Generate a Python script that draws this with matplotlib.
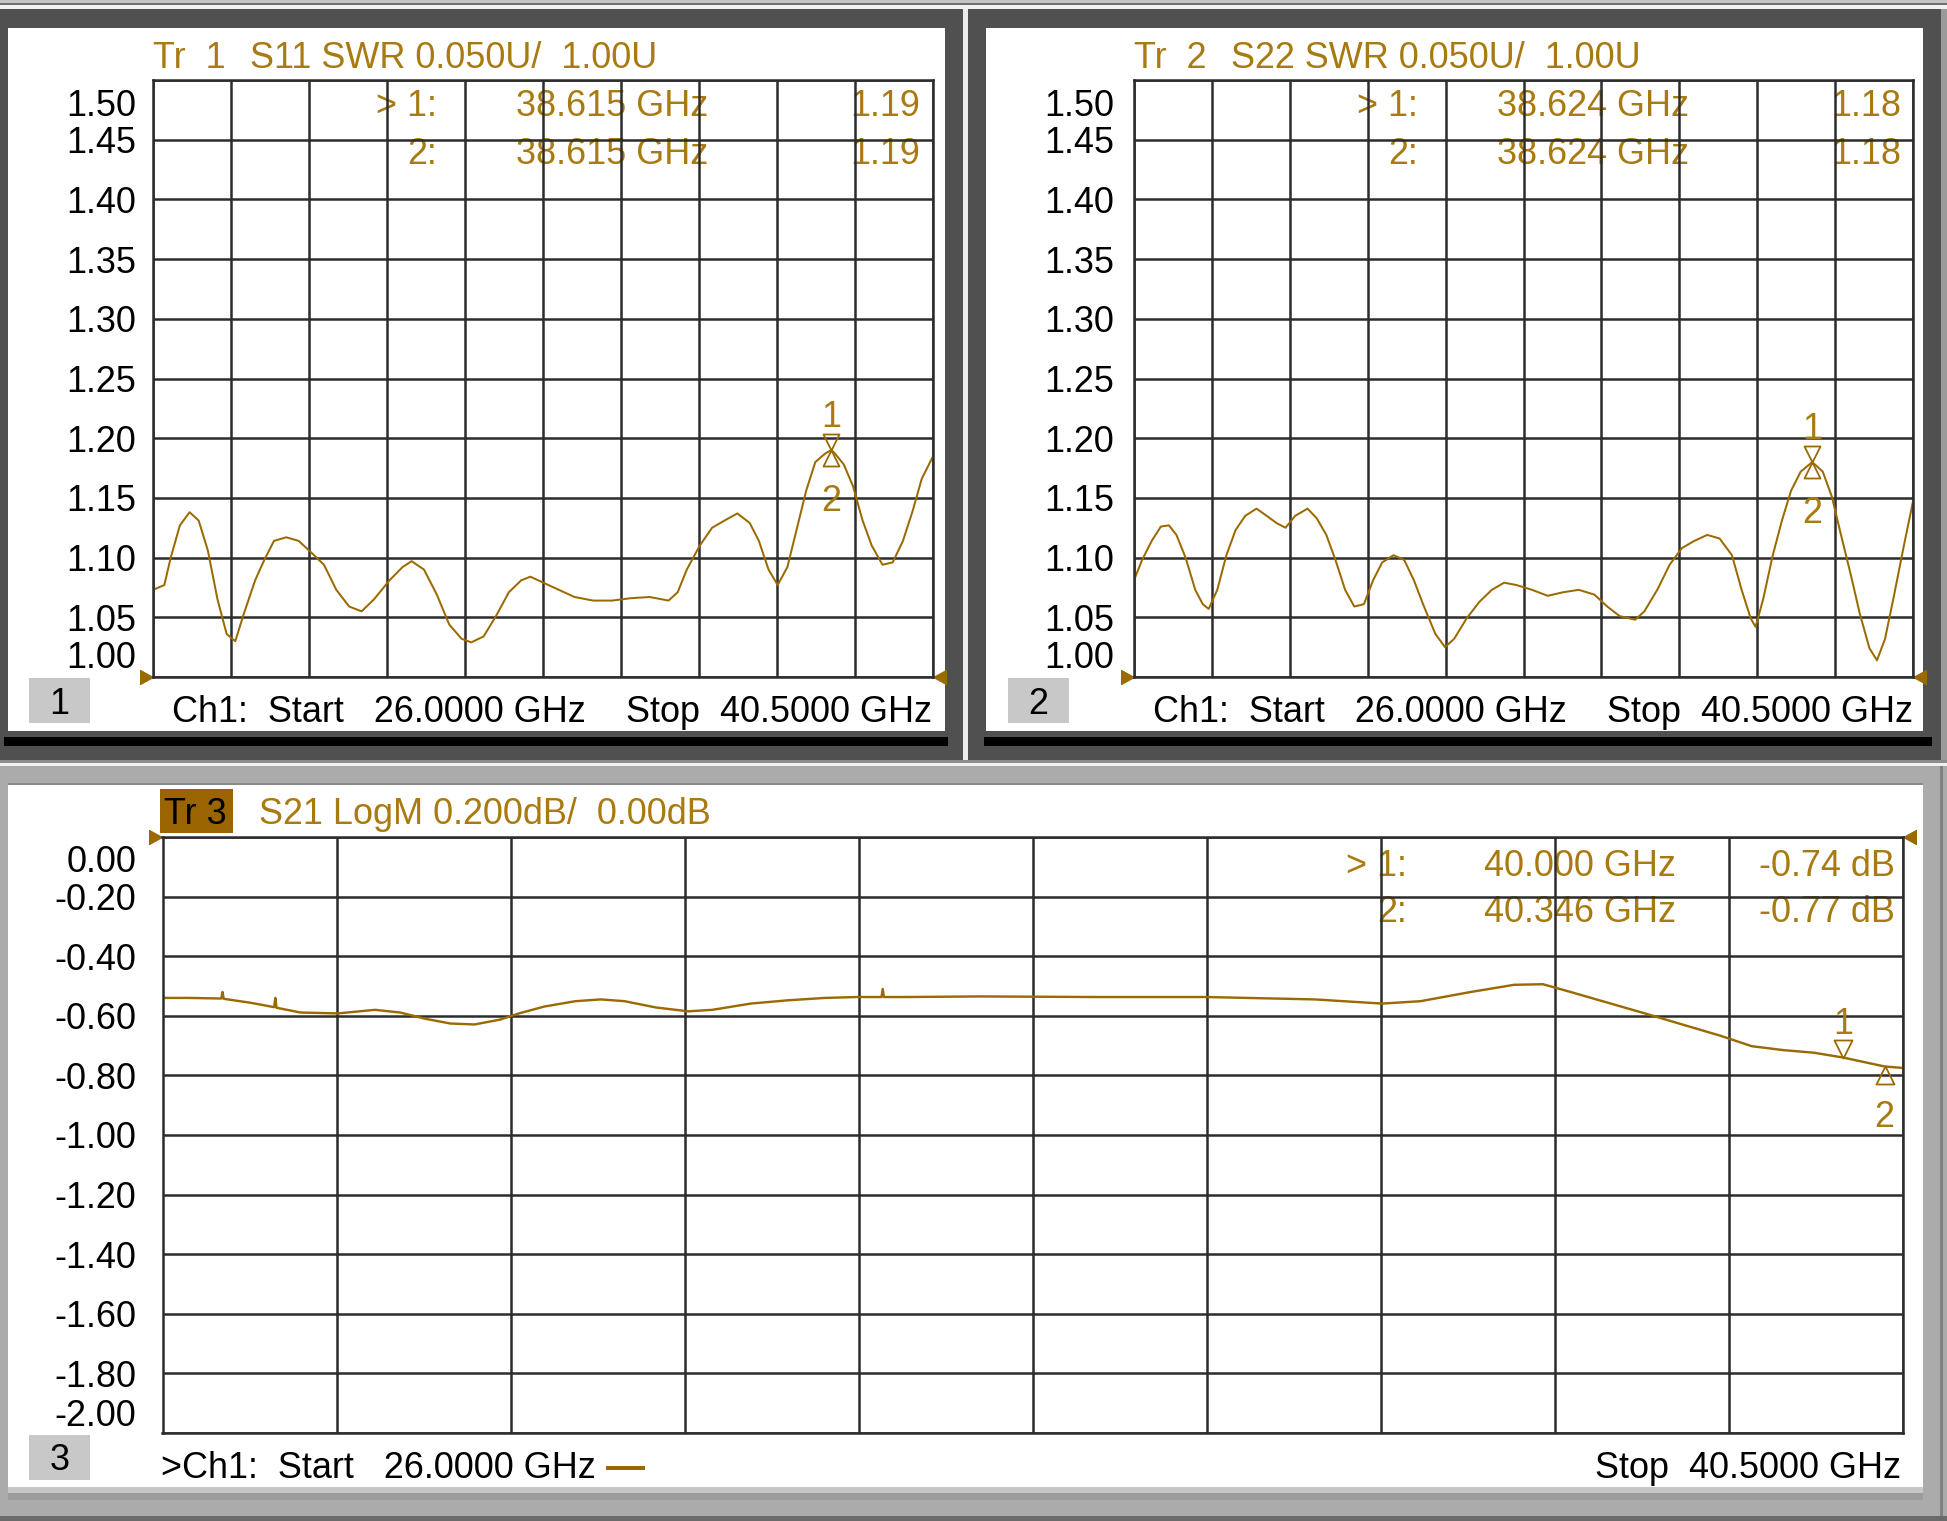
import matplotlib
matplotlib.use("Agg")
import matplotlib.pyplot as plt
from matplotlib.patches import Rectangle
from matplotlib.path import Path
from matplotlib.transforms import ScaledTranslation

plt.rcParams['font.family'] = ['Liberation Sans', 'DejaVu Sans']

W, H = 1947, 1521
DPI = 72  # 1 pt == 1 px

TRACE = '#9A6A00'
GOLD = '#A87A10'
GRID = '#2c2c2c'
FS = 36

# ---- data ----
f_start, f_stop = 26.0, 40.5

s11_freq = [26.00, 26.21, 26.33, 26.50, 26.68, 26.85, 27.02, 27.20, 27.37, 27.53,
            27.69, 27.90, 28.07, 28.25, 28.48, 28.71, 28.95, 29.18, 29.41, 29.65,
            29.88, 30.11, 30.40, 30.64, 30.81, 31.04, 31.28, 31.51, 31.74, 31.92,
            32.15, 32.38, 32.62, 32.85, 33.02, 33.26, 33.55, 33.84, 34.19, 34.54,
            34.89, 35.24, 35.59, 35.76, 35.93, 36.17, 36.40, 36.63, 36.87, 37.10,
            37.27, 37.45, 37.62, 37.80, 37.97, 38.15, 38.32, 38.50, 38.615, 38.67,
            38.85, 39.02, 39.20, 39.37, 39.57, 39.76, 39.95, 40.13, 40.30, 40.50]
s11_swr = [1.073, 1.077, 1.100, 1.127, 1.138, 1.131, 1.106, 1.065, 1.036, 1.030,
           1.053, 1.081, 1.098, 1.114, 1.117, 1.114, 1.104, 1.094, 1.073, 1.059,
           1.055, 1.065, 1.081, 1.092, 1.097, 1.090, 1.069, 1.044, 1.032, 1.029,
           1.034, 1.051, 1.071, 1.081, 1.084, 1.079, 1.073, 1.067, 1.064, 1.064,
           1.066, 1.067, 1.064, 1.071, 1.090, 1.110, 1.125, 1.131, 1.137, 1.129,
           1.114, 1.090, 1.077, 1.092, 1.123, 1.156, 1.180, 1.187, 1.190, 1.188,
           1.178, 1.160, 1.131, 1.110, 1.094, 1.096, 1.114, 1.139, 1.166, 1.184]

s22_freq = [26.00, 26.15, 26.33, 26.50, 26.65, 26.79, 26.96, 27.14, 27.28, 27.39,
            27.55, 27.72, 27.89, 28.07, 28.28, 28.47, 28.65, 28.82, 29.00, 29.23,
            29.40, 29.58, 29.75, 29.93, 30.10, 30.28, 30.45, 30.62, 30.83, 31.03,
            31.21, 31.38, 31.61, 31.79, 31.96, 32.19, 32.43, 32.66, 32.89, 33.12,
            33.41, 33.70, 33.99, 34.28, 34.57, 34.81, 35.04, 35.33, 35.50, 35.74,
            35.97, 36.20, 36.43, 36.67, 36.90, 37.13, 37.31, 37.48, 37.57, 37.71,
            37.89, 38.06, 38.23, 38.41, 38.624, 38.82, 38.99, 39.16, 39.34, 39.51,
            39.69, 39.83, 39.98, 40.15, 40.33, 40.50]
s22_swr = [1.081, 1.098, 1.114, 1.126, 1.127, 1.119, 1.100, 1.073, 1.061, 1.057,
           1.073, 1.102, 1.123, 1.135, 1.141, 1.135, 1.129, 1.125, 1.135, 1.141,
           1.133, 1.119, 1.098, 1.073, 1.059, 1.061, 1.081, 1.096, 1.102, 1.098,
           1.081, 1.061, 1.036, 1.025, 1.032, 1.049, 1.063, 1.073, 1.079, 1.077,
           1.073, 1.068, 1.071, 1.073, 1.069, 1.059, 1.051, 1.048, 1.055, 1.073,
           1.094, 1.108, 1.114, 1.119, 1.116, 1.102, 1.073, 1.049, 1.042, 1.065,
           1.102, 1.131, 1.156, 1.172, 1.180, 1.172, 1.151, 1.119, 1.086, 1.053,
           1.024, 1.014, 1.032, 1.069, 1.110, 1.147]

s21_freq = [26.00, 26.21, 26.49, 26.50, 26.51, 26.73, 26.93, 26.94, 26.95, 27.15,
            27.46, 27.77, 27.98, 28.19, 28.40, 28.60, 28.81, 28.97, 29.18, 29.44,
            29.65, 29.85, 30.11, 30.38, 30.58, 30.90, 31.21, 31.52, 31.78, 31.99,
            32.00, 32.01, 32.20, 32.81, 33.77, 34.70, 35.60, 36.16, 36.48, 36.90,
            37.26, 37.50, 37.73, 38.04, 38.35, 38.66, 38.98, 39.24, 39.50, 39.76,
            40.00, 40.346, 40.50]
s21_db = [-0.540, -0.540, -0.542, -0.520, -0.543, -0.556, -0.571, -0.540, -0.573, -0.589,
          -0.592, -0.580, -0.589, -0.610, -0.626, -0.629, -0.613, -0.592, -0.569, -0.551,
          -0.545, -0.551, -0.572, -0.585, -0.580, -0.559, -0.548, -0.540, -0.537, -0.537,
          -0.510, -0.537, -0.537, -0.535, -0.537, -0.537, -0.545, -0.559, -0.551, -0.520,
          -0.496, -0.494, -0.520, -0.556, -0.592, -0.629, -0.667, -0.702, -0.715, -0.724,
          -0.740, -0.770, -0.775]

swr_ticks = [1.00, 1.05, 1.10, 1.15, 1.20, 1.25, 1.30, 1.35, 1.40, 1.45, 1.50]
swr_labels = ['1.00', '1.05', '1.10', '1.15', '1.20', '1.25', '1.30', '1.35', '1.40', '1.45', '1.50']
db_ticks = [0.0, -0.2, -0.4, -0.6, -0.8, -1.0, -1.2, -1.4, -1.6, -1.8, -2.0]
db_labels = ['0.00', '-0.20', '-0.40', '-0.60', '-0.80', '-1.00', '-1.20', '-1.40', '-1.60', '-1.80', '-2.00']

# markers: (freq, value)
mk_s11 = [(38.615, 1.19), (38.615, 1.19)]
mk_s22 = [(38.624, 1.18), (38.624, 1.18)]
mk_s21 = [(40.000, -0.74), (40.346, -0.77)]

fig = plt.figure(figsize=(W / DPI, H / DPI), dpi=DPI, facecolor='#b0b0b0')

bg = fig.add_axes([0, 0, 1, 1])
bg.set_xlim(0, W)
bg.set_ylim(H, 0)
bg.axis('off')


def box(x0, y0, x1, y1, color):
    bg.add_patch(Rectangle((x0, y0), x1 - x0, y1 - y0, color=color, lw=0))


def txt(x, y, s, ha='left', color='black', **kw):
    # +4 px: matplotlib centres the box incl. descent, the screen centres the glyphs
    bg.text(x, y + 4, s, ha=ha, va='center', color=color, fontsize=FS, **kw)


# window frames
box(0, 0, W, 3, '#c4c4c4')
box(0, 3, W, 5, '#707070')
box(0, 5, W, 9, '#f2f2f2')
box(0, 9, 963, 760, '#505050')
box(963, 9, 968, 760, '#ececec')
box(968, 9, 1941, 760, '#505050')
box(1941, 9, W, 760, '#9a9a9a')
box(8, 28, 945, 731, 'white')
box(986, 28, 1923, 731, 'white')
box(4, 737, 948, 746, 'black')
box(984, 737, 1932, 746, 'black')
box(0, 760, W, 763, '#8c8c8c')
box(0, 763, W, 766, '#f0f0f0')
box(0, 766, W, H, '#ababab')
box(8, 783, 1923, 785, '#8a8a8a')
box(8, 785, 1923, 1487, 'white')
box(8, 1487, 1923, 1493, '#c6c6c6')
box(8, 1493, 1923, 1500, '#9c9c9c')
box(1940, 766, 1943, H, '#808080')
box(0, 1516, W, H, '#6a6a6a')


def make_axes(x0, y0, x1, y1):
    ax = fig.add_axes([x0 / W, 1 - y1 / H, (x1 - x0) / W, (y1 - y0) / H])
    ax.set_facecolor('none')
    for sp in ax.spines.values():
        sp.set_color(GRID)
        sp.set_linewidth(2.5)
    ax.grid(True, color=GRID, lw=2.5)
    ax.tick_params(length=0, labelsize=FS, colors='black')
    return ax


def y_labels(ax, ticks, labels, pad, shift):
    ax.set_yticks(ticks)
    ax.set_yticklabels(labels)
    ax.tick_params(axis='y', pad=pad)
    lab = ax.get_yticklabels()
    top_i = ticks.index(max(ticks))
    bot_i = ticks.index(min(ticks))
    lab[top_i].set_transform(lab[top_i].get_transform()
                             + ScaledTranslation(0, -shift / DPI, fig.dpi_scale_trans))
    lab[bot_i].set_transform(lab[bot_i].get_transform()
                             + ScaledTranslation(0, shift / DPI, fig.dpi_scale_trans))


down_tri = Path([(0, 0), (-0.5, 1), (0.5, 1), (0, 0)], closed=True)
up_tri = Path([(0, 0), (-0.5, -1), (0.5, -1), (0, 0)], closed=True)
right_tri = Path([(0, 0), (-1, 0.55), (-1, -0.55), (0, 0)], closed=True)
left_tri = Path([(0, 0), (1, 0.55), (1, -0.55), (0, 0)], closed=True)


def draw_markers(ax, mks, size=32):
    (f1, v1), (f2, v2) = mks
    ax.plot([f1], [v1], ls='none', marker=down_tri, ms=size, mfc='none', mec=TRACE, mew=1.8, clip_on=False)
    ax.plot([f2], [v2], ls='none', marker=up_tri, ms=size, mfc='none', mec=TRACE, mew=1.8, clip_on=False)
    ax.annotate('1', (f1, v1), xytext=(0, 33), textcoords='offset points', ha='center', va='center',
                color=GOLD, fontsize=FS)
    ax.annotate('2', (f2, v2), xytext=(0, -51), textcoords='offset points', ha='center', va='center',
                color=GOLD, fontsize=FS)


def ref_arrows(ax, y):
    ax.plot([f_start], [y], ls='none', marker=right_tri, ms=26, color=TRACE, clip_on=False)
    ax.plot([f_stop], [y], ls='none', marker=left_tri, ms=26, color=TRACE, clip_on=False)


xgrid = [f_start + i * (f_stop - f_start) / 10 for i in range(11)]

# ---- panel 1 / panel 2 (SWR) ----
for (gx0, gx1, freq, swr, mks, tr, sp, fmk, vmk, num) in [
        (153, 932.5, s11_freq, s11_swr, mk_s11, '1', 'S11', '38.615 GHz', '1.19', '1'),
        (1134, 1913, s22_freq, s22_swr, mk_s22, '2', 'S22', '38.624 GHz', '1.18', '2')]:
    ax = make_axes(gx0, 80, gx1, 677)
    ax.set_xlim(f_start, f_stop)
    ax.set_ylim(1.00, 1.50)
    ax.set_xticks(xgrid)
    ax.set_xticklabels([])
    y_labels(ax, swr_ticks, swr_labels, 17 if num == '1' else 20, 23)
    ax.plot(freq, swr, color=TRACE, lw=2)
    draw_markers(ax, mks)
    ref_arrows(ax, 1.00)

    o = gx0 - 153
    txt(153 + o, 55, 'Tr  ' + tr, color=GOLD)
    txt(250 + o, 55, sp + ' SWR 0.050U/  1.00U', color=GOLD)
    txt(437 + o, 103, '> 1:', ha='right', color=GOLD)
    txt(437 + o, 150, '2:', ha='right', color=GOLD)
    txt(516 + o, 103, fmk, color=GOLD)
    txt(516 + o, 150, fmk, color=GOLD)
    txt(920 + o, 103, vmk, ha='right', color=GOLD)
    txt(920 + o, 150, vmk, ha='right', color=GOLD)
    txt(172 + o, 708, 'Ch1:  Start   26.0000 GHz')
    txt(gx1, 708, 'Stop  40.5000 GHz', ha='right')
    bx = 29 if num == '1' else 1008
    box(bx, 678, bx + 61, 723, '#c8c8c8')
    txt(bx + 30.5, 700, num, ha='center')

# ---- panel 3 (S21 LogM) ----
ax3 = make_axes(162.5, 837, 1903, 1433)
ax3.set_xlim(f_start, f_stop)
ax3.set_ylim(-2.0, 0.0)
ax3.set_xticks(xgrid)
ax3.set_xticklabels([])
y_labels(ax3, db_ticks, db_labels, 26, 21)
ax3.plot(s21_freq, s21_db, color=TRACE, lw=2.4)
draw_markers(ax3, mk_s21, size=36)
ref_arrows(ax3, 0.0)

box(160, 789, 233, 833, '#9A6500')
txt(164, 810, 'Tr 3')
txt(259, 811, 'S21 LogM 0.200dB/  0.00dB', color=GOLD)
txt(1407, 862, '> 1:', ha='right', color=GOLD)
txt(1407, 908, '2:', ha='right', color=GOLD)
txt(1484, 862, '40.000 GHz', color=GOLD)
txt(1484, 908, '40.346 GHz', color=GOLD)
txt(1895, 862, '-0.74 dB', ha='right', color=GOLD)
txt(1895, 908, '-0.77 dB', ha='right', color=GOLD)
txt(161, 1464, '>Ch1:  Start   26.0000 GHz')
bg.plot([606, 645], [1468, 1468], color=TRACE, lw=4, solid_capstyle='butt')
txt(1901, 1464, 'Stop  40.5000 GHz', ha='right')
box(29, 1435, 90, 1480, '#c8c8c8')
txt(59.5, 1457, '3', ha='center')

fig.savefig('out.png', dpi=DPI, facecolor=fig.get_facecolor())
